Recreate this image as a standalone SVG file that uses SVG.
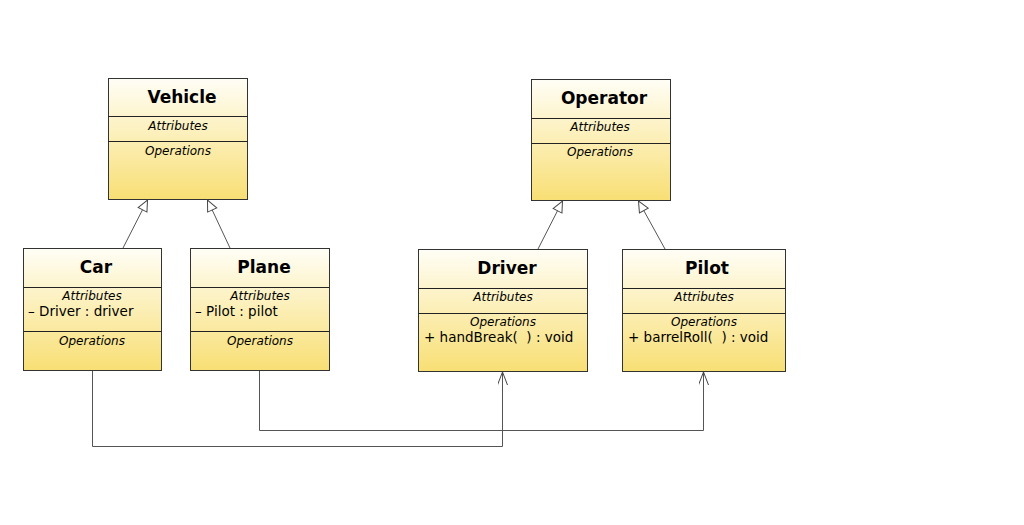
<svg xmlns="http://www.w3.org/2000/svg" width="1024" height="525" viewBox="0 0 1024 525">
<defs>
<linearGradient id="g" x1="0" y1="0" x2="0" y2="1">
<stop offset="0" stop-color="#fffef6"/>
<stop offset="0.45" stop-color="#fcf0bc"/>
<stop offset="1" stop-color="#f8df74"/>
</linearGradient>
<marker id="tri" markerWidth="14" markerHeight="14" refX="12" refY="6" orient="auto" markerUnits="userSpaceOnUse">
<path d="M1,1 L12,6 L1,11 Z" fill="#fff" stroke="#444" stroke-width="1"/>
</marker>
<marker id="open" markerWidth="16" markerHeight="12" refX="13" refY="5" orient="auto" markerUnits="userSpaceOnUse">
<path d="M0,0 L13,5 L0,10" fill="none" stroke="#444" stroke-width="1"/>
</marker>
</defs>
<style>
.box{fill:url(#g);stroke:#333;stroke-width:1}
.div{stroke:#222;stroke-width:1.2}
.t{font-family:"DejaVu Sans",sans-serif;font-size:17px;font-weight:bold;text-anchor:middle;fill:#000}
.s{font-family:"DejaVu Sans",sans-serif;font-size:12px;font-style:italic;text-anchor:middle;fill:#000}
.m{font-family:"DejaVu Sans",sans-serif;font-size:13.5px;fill:#000}
.c{fill:none;stroke:#555;stroke-width:1}
</style>
<rect width="1024" height="525" fill="#fff"/>
<g id="Vehicle">
<rect class="box" x="108.5" y="78.5" width="139" height="121"/>
<line class="div" x1="108.5" y1="116.5" x2="247.5" y2="116.5"/>
<line class="div" x1="108.5" y1="141.5" x2="247.5" y2="141.5"/>
<text class="t" x="182" y="103">Vehicle</text>
<text class="s" x="178" y="130">Attributes</text>
<text class="s" x="178" y="155">Operations</text>
</g>
<g id="Operator">
<rect class="box" x="531.5" y="79.5" width="139" height="121"/>
<line class="div" x1="531.5" y1="118.5" x2="670.5" y2="118.5"/>
<line class="div" x1="531.5" y1="143.5" x2="670.5" y2="143.5"/>
<text class="t" x="604" y="104">Operator</text>
<text class="s" x="600" y="131">Attributes</text>
<text class="s" x="600" y="156">Operations</text>
</g>
<g id="Car">
<rect class="box" x="23.5" y="248.5" width="138" height="122"/>
<line class="div" x1="23.5" y1="287.5" x2="161.5" y2="287.5"/>
<line class="div" x1="23.5" y1="331.5" x2="161.5" y2="331.5"/>
<text class="t" x="96" y="273">Car</text>
<text class="s" x="92" y="300">Attributes</text>
<text class="m" x="28" y="316">– Driver : driver</text>
<text class="s" x="92" y="345">Operations</text>
</g>
<g id="Plane">
<rect class="box" x="190.5" y="248.5" width="139" height="122"/>
<line class="div" x1="190.5" y1="287.5" x2="329.5" y2="287.5"/>
<line class="div" x1="190.5" y1="331.5" x2="329.5" y2="331.5"/>
<text class="t" x="264" y="273">Plane</text>
<text class="s" x="260" y="300">Attributes</text>
<text class="m" x="195" y="316">– Pilot : pilot</text>
<text class="s" x="260" y="345">Operations</text>
</g>
<g id="Driver">
<rect class="box" x="418.5" y="249.5" width="169" height="122"/>
<line class="div" x1="418.5" y1="288.5" x2="587.5" y2="288.5"/>
<line class="div" x1="418.5" y1="313.5" x2="587.5" y2="313.5"/>
<text class="t" x="507" y="274">Driver</text>
<text class="s" x="503" y="301">Attributes</text>
<text class="s" x="503" y="326">Operations</text>
<text class="m" x="424" y="342">+ handBreak(&#160;&#160;) : void</text>
</g>
<g id="Pilot">
<rect class="box" x="622.5" y="249.5" width="163" height="122"/>
<line class="div" x1="622.5" y1="288.5" x2="785.5" y2="288.5"/>
<line class="div" x1="622.5" y1="313.5" x2="785.5" y2="313.5"/>
<text class="t" x="707" y="274">Pilot</text>
<text class="s" x="704" y="301">Attributes</text>
<text class="s" x="704" y="326">Operations</text>
<text class="m" x="628" y="342">+ barrelRoll(&#160;&#160;) : void</text>
</g>
<g id="connectors">
<line class="c" x1="123" y1="248" x2="147.5" y2="200" marker-end="url(#tri)"/>
<line class="c" x1="230" y1="248" x2="207.5" y2="200" marker-end="url(#tri)"/>
<line class="c" x1="538" y1="249" x2="562.5" y2="201" marker-end="url(#tri)"/>
<line class="c" x1="665" y1="249" x2="638.5" y2="201" marker-end="url(#tri)"/>
<polyline class="c" points="92.5,371 92.5,446.5 502.5,446.5 502.5,372" marker-end="url(#open)"/>
<polyline class="c" points="259.5,371 259.5,430.5 703.5,430.5 703.5,372" marker-end="url(#open)"/>
</g>
</svg>
